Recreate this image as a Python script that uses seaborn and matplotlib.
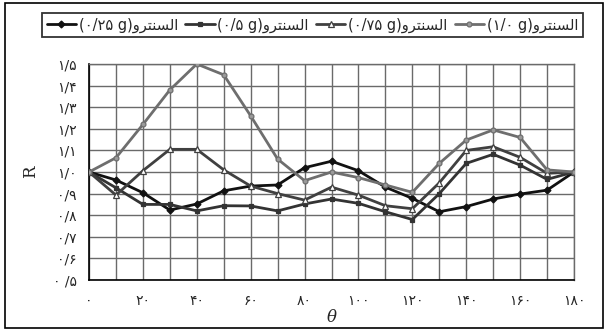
import numpy as np
import pandas as pd
import matplotlib
matplotlib.use("Agg")
import matplotlib.pyplot as plt
import seaborn as sns

sns.set_style("white")
plt.rcParams['font.family'] = ['DejaVu Sans']

# data (R vs theta, every 10 degrees)
theta = [0, 10, 20, 30, 40, 50, 60, 70, 80, 90, 100, 110, 120, 130, 140, 150, 160, 170, 180]
r_025 = [1.00, 0.963, 0.904, 0.824, 0.852, 0.913, 0.935, 0.94, 1.02, 1.05,
         1.006, 0.93, 0.878, 0.816, 0.84, 0.875, 0.898, 0.916, 1.00]
r_05 = [1.00, 0.927, 0.85, 0.85, 0.82, 0.844, 0.843, 0.82, 0.852, 0.875,
        0.855, 0.816, 0.78, 0.90, 1.04, 1.082, 1.032, 0.966, 1.00]
r_075 = [1.00, 0.893, 1.006, 1.105, 1.105, 1.01, 0.935, 0.90, 0.87, 0.93,
         0.893, 0.844, 0.83, 0.95, 1.10, 1.117, 1.068, 0.994, 1.00]
r_10 = [1.00, 1.066, 1.22, 1.38, 1.50, 1.45, 1.26, 1.06, 0.96, 1.00,
        0.974, 0.94, 0.906, 1.04, 1.148, 1.195, 1.16, 1.01, 1.00]

# "السنترو" in visual order, presentation forms (matplotlib does no arabic shaping)
centro = "\uFEED\uFEAE\uFE98\uFEE8\uFEB4\uFEDF\uFE8D"
labels = ["(۰/۲۵ g)" + centro, "(۰/۵ g)" + centro, "(۰/۷۵ g)" + centro, "(۱/۰ g)" + centro]

xticks = [0, 20, 40, 60, 80, 100, 120, 140, 160, 180]
xtick_labels = ["۰", "۲۰", "۴۰", "۶۰", "۸۰", "۱۰۰", "۱۲۰", "۱۴۰", "۱۶۰", "۱۸۰"]
yticks = [0.5, 0.6, 0.7, 0.8, 0.9, 1.0, 1.1, 1.2, 1.3, 1.4, 1.5]
ytick_labels = ["۰ /۵", "۰/۶", "۰/۷", "۰/۸", "۰/۹", "۱/۰", "۱/۱", "۱/۲", "۱/۳", "۱/۴", "۱/۵"]

fig = plt.figure(figsize=(6.08, 3.31), dpi=100)
ax = fig.add_axes([0.1464, 0.154, 0.7977, 0.6526])

styles = [
    (r_025, "#111111", "D", "#111111", 3.5),
    (r_05, "#333333", "s", "#333333", 3.5),
    (r_075, "#404040", "^", "white", 4),
    (r_10, "#6e6e6e", "o", "#9a9a9a", 3.5),
]
for (vals, col, mk, fc, ms), lab in zip(styles, labels):
    sns.lineplot(x=theta, y=vals, ax=ax, color=col, marker=mk, markersize=ms,
                 markerfacecolor=fc, markeredgecolor=col, markeredgewidth=0.9,
                 linewidth=2.0, label=lab, zorder=3)

ax.set_xlim(0, 180)
ax.set_ylim(0.5, 1.5)
ax.set_xticks(xticks)
ax.set_xticks(range(0, 181, 10), minor=True)
ax.set_xticklabels(xtick_labels, fontsize=10)
ax.set_yticks(yticks)
ax.set_yticklabels(ytick_labels, fontsize=10)
ax.grid(True, which="both", color="#6a6a6a", linewidth=1.0)
ax.tick_params(axis="x", which="major", length=4, width=1, color="black", pad=6)
ax.tick_params(axis="x", which="minor", length=0)
ax.tick_params(axis="y", length=5, width=1, color="black", pad=4)
for s in ["top", "right"]:
    ax.spines[s].set_color("#6a6a6a")
    ax.spines[s].set_linewidth(1.0)
for s in ["left", "bottom"]:
    ax.spines[s].set_color("black")
    ax.spines[s].set_linewidth(1.2)

ax.set_xlabel("θ", fontsize=12, fontstyle="italic", family="DejaVu Serif", labelpad=1)
ax.set_ylabel("R", fontsize=12, family="DejaVu Serif", labelpad=10)

ax.get_legend().remove()
h, l = ax.get_legend_handles_labels()
leg = fig.legend(h, l, loc="center", bbox_to_anchor=(0.514, 0.9245), ncol=4,
                 fontsize=10.5, frameon=True, fancybox=False, edgecolor="black",
                 handlelength=2.0, handletextpad=0.2, columnspacing=0.5,
                 borderpad=0.3)
leg.get_frame().set_linewidth(1.3)

fig.add_artist(plt.Rectangle((0.008, 0.01), 0.984, 0.98, transform=fig.transFigure,
                             fill=False, edgecolor="black", linewidth=1.2))

fig.savefig("out.png", dpi=100)
